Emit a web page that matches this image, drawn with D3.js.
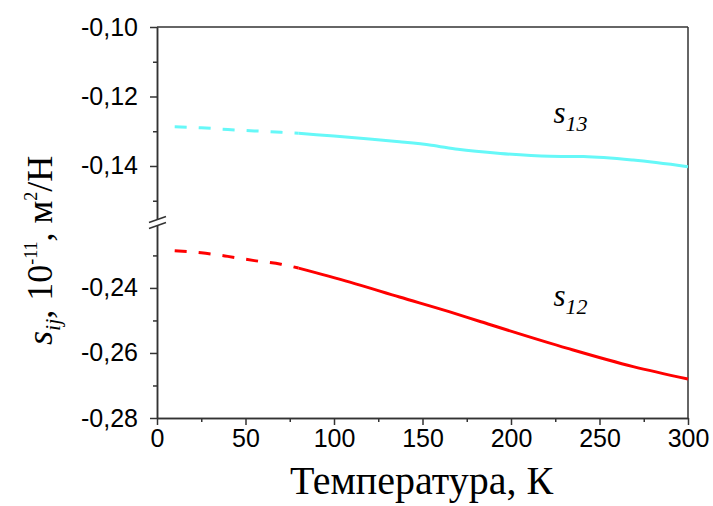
<!DOCTYPE html>
<html>
<head>
<meta charset="utf-8">
<script src="https://cdn.jsdelivr.net/npm/d3@7"></script>
<style>
  html, body { margin: 0; padding: 0; background: #fff; }
  svg { display: block; }
</style>
</head>
<body>
<svg id="chart" width="713" height="506"></svg>
<script>
// Temperature grid, K
const temps13 = [10, 25, 40, 55, 70, 80, 100, 120, 137, 155, 170, 194, 222, 241, 269, 300];
const s13 = [-0.1287, -0.1290, -0.1295, -0.1299, -0.1303, -0.1306, -0.1314, -0.1322, -0.1330,
             -0.1340, -0.1352, -0.1364, -0.1372, -0.1373, -0.1383, -0.1402];
const temps12 = [10, 25, 40, 55, 70, 80, 109, 137, 165, 183, 232, 269, 300];
const s12 = [-0.2286, -0.2292, -0.2303, -0.2316, -0.2327, -0.2339, -0.2382, -0.2428,
             -0.2473, -0.2504, -0.2586, -0.2642, -0.2680];
// Below this temperature the curves are extrapolated (dashed)
const extrapolatedBelow = 80;

const xTicks = [0, 50, 100, 150, 200, 250, 300];
const xMinorTicks = [25, 75, 125, 175, 225, 275];
const yUpperTicks = [-0.10, -0.12, -0.14];
const yUpperMinor = [-0.11, -0.13, -0.15];
const yLowerTicks = [-0.24, -0.26, -0.28];
const yLowerMinor = [-0.23, -0.25, -0.27];

// Curve labels: [temperature, value] anchor
const label13 = [224, -0.1276];
const label12 = [224, -0.2455];

const svg = d3.select("#chart");
const plotLeft = 157, plotRight = 688, plotTop = 27, plotBottom = 418;
const breakTop = 219.5, breakBottom = 225.5;

const x = d3.scaleLinear().domain([0, 300]).range([plotLeft, plotRight]);
const yUp = d3.scaleLinear().domain([-0.10, -0.1554]).range([plotTop, breakTop]);
const yLow = d3.scaleLinear().domain([-0.2208, -0.28]).range([breakBottom, plotBottom]);

const fmt = d => d.toFixed(2).replace(".", ",");
const axisColor = "#333";

function styleAxis(g) {
  g.selectAll("path, line").attr("stroke", axisColor).attr("stroke-width", 1.5);
  g.selectAll("text").attr("fill", "#000")
    .style("font-family", "'Liberation Sans', Arial, sans-serif")
    .style("font-size", "25px");
}

// Frame: top and right
svg.append("line").attr("x1", plotLeft).attr("x2", plotRight).attr("y1", plotTop).attr("y2", plotTop)
  .attr("stroke", axisColor).attr("stroke-width", 1.5);
svg.append("line").attr("x1", plotRight).attr("x2", plotRight).attr("y1", plotTop).attr("y2", plotBottom)
  .attr("stroke", axisColor).attr("stroke-width", 1.5);

// Upper y segment
svg.append("g").attr("transform", `translate(${plotLeft},0)`)
  .call(d3.axisLeft(yUp).tickValues(yUpperTicks).tickFormat(fmt).tickSizeInner(7).tickSizeOuter(0).tickPadding(12))
  .call(styleAxis);
svg.append("g").attr("transform", `translate(${plotLeft},0)`)
  .call(d3.axisLeft(yUp).tickValues(yUpperMinor).tickFormat("").tickSizeInner(4).tickSizeOuter(0))
  .call(styleAxis);

// Lower y segment
svg.append("g").attr("transform", `translate(${plotLeft},0)`)
  .call(d3.axisLeft(yLow).tickValues(yLowerTicks).tickFormat(fmt).tickSizeInner(7).tickSizeOuter(0).tickPadding(12))
  .call(styleAxis);
svg.append("g").attr("transform", `translate(${plotLeft},0)`)
  .call(d3.axisLeft(yLow).tickValues(yLowerMinor).tickFormat("").tickSizeInner(4).tickSizeOuter(0))
  .call(styleAxis);

// x axis
svg.append("g").attr("transform", `translate(0,${plotBottom})`)
  .call(d3.axisBottom(x).tickValues(xTicks).tickFormat(d3.format("d")).tickSizeInner(7).tickSizeOuter(0).tickPadding(4))
  .call(styleAxis);
svg.append("g").attr("transform", `translate(0,${plotBottom})`)
  .call(d3.axisBottom(x).tickValues(xMinorTicks).tickFormat("").tickSizeInner(4).tickSizeOuter(0))
  .call(styleAxis);

// Axis break marks
const bm = svg.append("g").attr("stroke", axisColor).attr("stroke-width", 1.5);
[breakTop, breakBottom].forEach(yy => {
  bm.append("line").attr("x1", plotLeft - 8).attr("y1", yy + 3).attr("x2", plotLeft + 9).attr("y2", yy - 3);
});

// Curves
function drawSeries(temps, vals, yScale, color) {
  const pts = temps.map((t, i) => ({ t, v: vals[i] }));
  const line = d3.line().x(d => x(d.t)).y(d => yScale(d.v)).curve(d3.curveMonotoneX);
  const dashed = pts.filter(d => d.t <= extrapolatedBelow);
  const solid = pts.filter(d => d.t >= extrapolatedBelow);
  svg.append("path").attr("d", line(dashed)).attr("fill", "none")
    .attr("stroke", color).attr("stroke-width", 3).attr("stroke-dasharray", "12,12");
  svg.append("path").attr("d", line(solid)).attr("fill", "none")
    .attr("stroke", color).attr("stroke-width", 3);
}
drawSeries(temps13, s13, yUp, "#66f8f8");
drawSeries(temps12, s12, yLow, "#ff0000");

// Series labels
function seriesLabel(pos, yScale, sub) {
  const t = svg.append("text").attr("x", x(pos[0])).attr("y", yScale(pos[1]))
    .style("font-family", "'Liberation Serif', 'Times New Roman', serif")
    .style("font-style", "italic").attr("fill", "#000");
  t.append("tspan").style("font-size", "31px").text("s");
  t.append("tspan").attr("dy", 8).style("font-size", "22px").text(sub);
}
seriesLabel(label13, yUp, "13");
seriesLabel(label12, yLow, "12");

// Axis titles
svg.append("text").attr("x", (plotLeft + plotRight) / 2 - 1).attr("y", 494)
  .attr("text-anchor", "middle")
  .style("font-family", "'Liberation Serif', 'Times New Roman', serif")
  .style("font-size", "40px").attr("fill", "#000")
  .text("Температура, К");

const yt = svg.append("text")
  .attr("transform", "translate(52,345) rotate(-90)")
  .attr("text-anchor", "start")
  .style("font-family", "'Liberation Serif', 'Times New Roman', serif")
  .style("font-size", "36px").attr("fill", "#000");
yt.append("tspan").style("font-style", "italic").text("s");
yt.append("tspan").style("font-style", "italic").style("font-size", "22px").attr("dy", 8).text("ij");
yt.append("tspan").attr("dy", -8).text(", 10");
yt.append("tspan").style("font-size", "18px").attr("dy", -15).text("-11");
yt.append("tspan").attr("dy", 15).text(", м");
yt.append("tspan").style("font-size", "18px").attr("dy", -15).text("2");
yt.append("tspan").attr("dy", 15).text("/Н");
</script>
</body>
</html>
